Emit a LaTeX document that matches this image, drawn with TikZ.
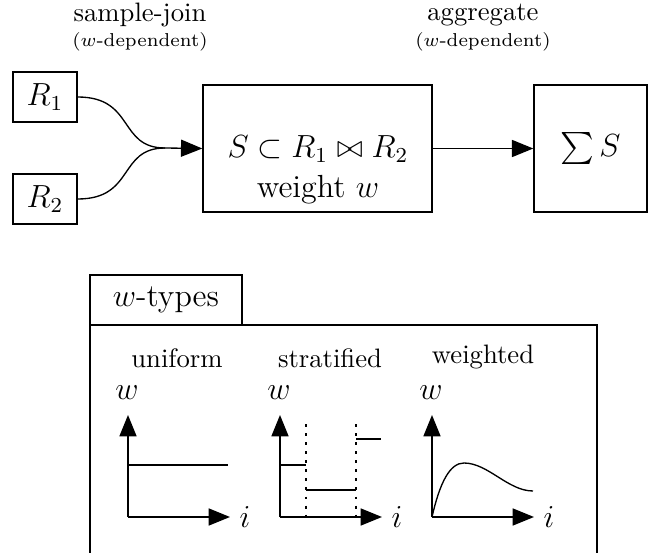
\documentclass[tikz,border=0pt]{standalone}
\usepackage{amssymb}
\usetikzlibrary{arrows.meta}
\begin{document}
\begin{tikzpicture}[x={(0.375pt,0)},y={(0,-0.375pt)},
  line width=0.5pt,
  box/.style={draw,line width=0.5pt,inner sep=0pt,font=\large},
  tip/.style={-{Triangle[length=8pt,width=6.4pt]}},
  lbl/.style={inner sep=0pt},
  axlbl/.style={inner sep=0pt,font=\large},
  small/.style={inner sep=0pt,font=\scriptsize},
  dots/.style={dash pattern=on 1.1pt off 2.3pt}]
\useasboundingbox (0,0) rectangle (655,553);
% top row
\node[box,minimum width=24pt,minimum height=18.75pt] (r1) at (45,97) {$R_1$};
\node[box,minimum width=24pt,minimum height=18.75pt] (r2) at (45,199) {$R_2$};
\node[box,minimum width=85.9pt,minimum height=47.6pt] (main) at (317.5,148.5) {};
\node[lbl,font=\large,align=center] (maintxt) at (318,170) {$S\subset R_1\bowtie R_2$\\[1pt] weight $w$};
\node[box,minimum width=42.4pt,minimum height=47.6pt] (sum) at (590.5,148.5) {$\sum S$};
\coordinate (m) at (165,148);
\draw (r1.east) .. controls (135,97) and (118,148) .. (m);
\draw (r2.east) .. controls (135,199) and (118,148) .. (m);
\draw[tip] (m) -- (main.west);
\draw[tip] (main.east) -- (sum.west);
\node[lbl] (sj) at (140,15) {sample-join};
\node[small] (sjd) at (140,42) {($w$-dependent)};
\node[lbl] (ag) at (483,15) {aggregate};
\node[small] (agd) at (483,42) {($w$-dependent)};
% bottom panel
\node[box,minimum width=57pt,minimum height=18.75pt] (tab) at (166,300) {$w$-types};
\draw (90,560) -- (90,325) -- (597,325) -- (597,560);
\node[lbl] (tu) at (177,358) {uniform};
\node[lbl] (ts) at (330,358) {stratified};
\node[lbl] (tw) at (483,357) {weighted};
% uniform
\coordinate (uo) at (128,517);
\coordinate (uy) at (128,415);
\coordinate (ux) at (230,517);
\draw[tip] (uo) -- (uy);
\draw[tip] (uo) -- (ux);
\node[axlbl] (uw) at (127,393) {$w$};
\node[axlbl] (ui) at (245,517) {$i$};
\draw (128,465) -- (228,465);
% stratified
\coordinate (so) at (280,517);
\coordinate (sy) at (280,415);
\coordinate (sx) at (382,517);
\draw[tip] (so) -- (sy);
\draw[tip] (so) -- (sx);
\node[axlbl] (sw) at (279,393) {$w$};
\node[axlbl] (si) at (397,517) {$i$};
\draw[dots] (306,424) -- (306,517);
\draw[dots] (356,424) -- (356,517);
\draw (280,465) -- (306,465);
\draw (306,490) -- (356,490);
\draw (356,439) -- (381,439);
% weighted
\coordinate (wo) at (432,517);
\coordinate (wy) at (432,415);
\coordinate (wx) at (534,517);
\draw[tip] (wo) -- (wy);
\draw[tip] (wo) -- (wx);
\node[axlbl] (ww) at (431,393) {$w$};
\node[axlbl] (wi) at (549,517) {$i$};
\draw (432,517) .. controls (440,482) and (450,463) .. (464,463)
      .. controls (488,463) and (508,491) .. (533,491);
\end{tikzpicture}
\end{document}
